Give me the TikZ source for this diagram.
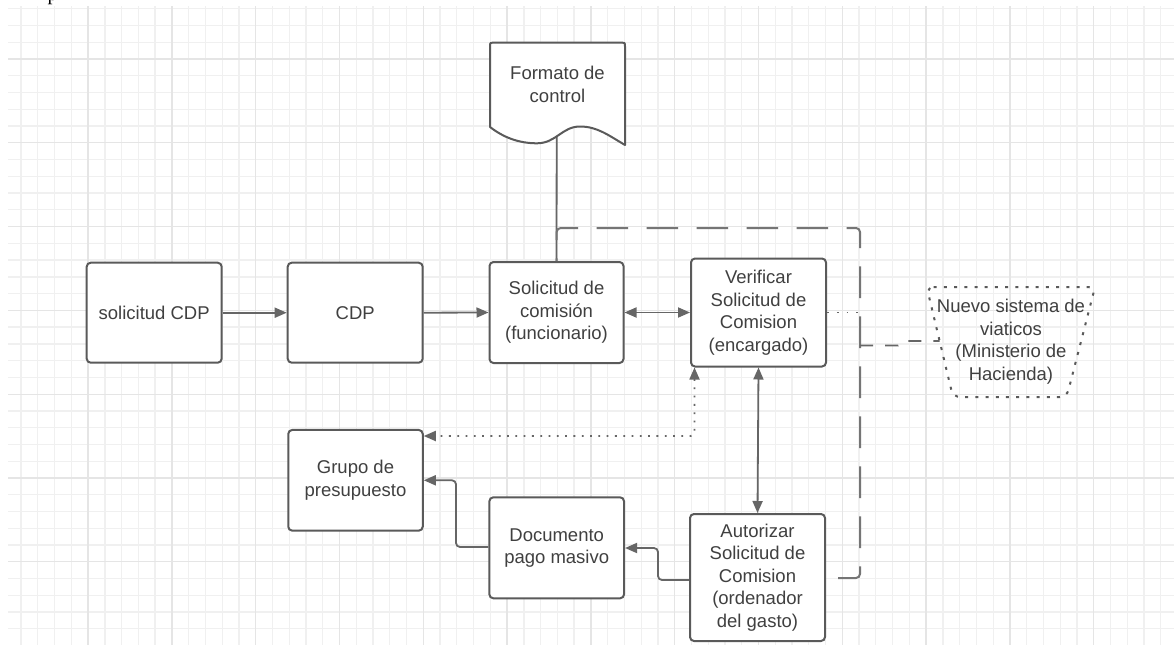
\documentclass[tikz,border=0pt]{standalone}
\usepackage{fontspec}
\setmainfont{Liberation Sans}
\newfontfamily\serifp{Liberation Serif}
\usetikzlibrary{arrows.meta}
\definecolor{gridminor}{HTML}{F0F0F0}
\definecolor{gridmajor}{HTML}{E5E5E5}
\definecolor{boxline}{HTML}{5A5A5A}
\definecolor{conn}{HTML}{666666}
\definecolor{txt}{HTML}{404040}
\begin{document}
\begin{tikzpicture}[x=1pt,y=-1pt,
  box/.style={draw=boxline, line width=2pt, rounded corners=4pt, fill=white,
    text=txt, align=center, inner sep=2pt,
    font=\fontsize{18.5}{22.5}\selectfont},
  arr/.style={draw=conn, line width=1.8pt, rounded corners=4pt, -{Triangle[length=12pt,width=10pt]}},
  darr/.style={draw=conn, line width=1.8pt, {Triangle[length=12pt,width=10pt]}-{Triangle[length=12pt,width=10pt]}},
  dotarr/.style={draw=conn, line width=1.8pt, rounded corners=4pt,
    dash pattern=on 1.8pt off 6.5pt,
    {Triangle[length=12pt,width=10pt]}-{Triangle[length=12pt,width=10pt]}},
  dotline/.style={draw=conn, line width=1.8pt, dash pattern=on 1.8pt off 8pt},
  longdash/.style={draw=conn!90!white, line width=2pt, rounded corners=4pt,
    dash pattern=on 31.6pt off 18.4pt, dash phase=29pt},
  shortdash/.style={draw=conn, line width=1.8pt, dash pattern=on 13pt off 12pt},
  plain/.style={draw=conn, line width=1.8pt}
]
\useasboundingbox (0,0) rectangle (1174,645);
\fill[white] (0,0) rectangle (1174,645);

% background grid: minor lines every 16.76, major every fifth
\foreach \k in {1,...,69} {
  \draw[gridminor, line width=1.3pt] ({4.3+16.76*\k},6) -- ({4.3+16.76*\k},645);
}
\foreach \k in {0,...,37} {
  \draw[gridminor, line width=1.3pt] (8,{8.7+16.76*\k}) -- (1174,{8.7+16.76*\k});
}
\foreach \m in {1,...,13} {
  \draw[gridmajor, line width=1.3pt] ({4.3+83.8*\m},6) -- ({4.3+83.8*\m},645);
}
\foreach \m in {0,...,6} {
  \draw[gridmajor, line width=1.3pt] (8,{59+83.8*\m}) -- (1174,{59+83.8*\m});
}

% stray glyph at the top edge
\node[anchor=base west, inner sep=0pt, text=black, font=\serifp\fontsize{20}{24}\selectfont] (ptxt) at (47.5,0.8) {p};

% process boxes
\node[box, minimum width=135pt, minimum height=100pt] (scdp) at (154.2,312.7) {solicitud CDP};
\node[box, minimum width=135pt, minimum height=100pt] (cdp) at (355.2,312.7) {CDP};
\node[box, minimum width=134pt, minimum height=101pt] (solc) at (556.5,312.5) {Solicitud de\\comisión\\(funcionario)};
\node[box, minimum width=135pt, minimum height=108pt] (verif) at (758.5,312.5) {Verificar\\Solicitud de\\Comision\\(encargado)};
\node[box, minimum width=134.5pt, minimum height=100.7pt] (grupo) at (355.5,480.3) {Grupo de\\presupuesto};
\node[box, minimum width=134.7pt, minimum height=101pt] (pago) at (556.7,547.8) {Documento\\pago masivo};
\node[box, minimum width=135pt, minimum height=127pt] (autor) at (757.5,577.5) {Autorizar\\Solicitud de\\Comision\\(ordenador\\del gasto)};

% document symbol
\coordinate (docb) at (556.7,137);
\draw[plain] (docb) -- (solc.north);
\draw[draw=boxline, line width=2pt, fill=white, line join=round]
  (490,127) -- (490,46.7) .. controls (490,42.7) .. (494,42.7)
  -- (621,42.7) .. controls (625,42.7) .. (625,46.7)
  -- (625,145)
  .. controls (608,135) and (597,126.5) .. (580,126.5)
  .. controls (562,126.5) and (556,143.3) .. (537,143.3)
  .. controls (518,143.3) and (503,137) .. (490,127) -- cycle;
\node[text=txt, align=center, font=\fontsize{18.5}{22.5}\selectfont] (fmt) at (557.5,84.5) {Formato de\\control};

% external system (dotted trapezoid)
\draw[draw=boxline, line width=2pt, rounded corners=7pt, dash pattern=on 3pt off 7.2pt]
  (926.7,287) -- (1095,287) -- (1066.7,397) -- (953,397) -- cycle;
\node[text=txt, align=center, font=\fontsize{18.5}{22.5}\selectfont] (nuevo) at (1011,341.5)
  {Nuevo sistema de\\viaticos\\(Ministerio de\\Hacienda)};
\coordinate (nuevoin) at (939.5,341);

% main flow
\draw[arr] (scdp.east) -- (cdp.west);
\draw[arr] (cdp.east) -- (solc.west);
\draw[darr] (solc.east) -- (verif.west);
\draw[darr] (verif.south) -- (autor.north);
\draw[dotarr] ([xshift=4.5pt]verif.south west) |- (grupo.east |- 0,436);
\draw[arr] (autor.west |- 0,580) -- (658,580) -- (658,548) -- (pago.east |- 0,548);
\draw[arr] (pago.west |- 0,547) -- (456,547) -- (456,480.3) -- (grupo.east);

% dashed loop from the request to the authorisation
\draw[longdash] (solc.north) -- (556.7,228) -- (860,228) -- (860,578) -- (autor.east |- 0,578);

% link to the external system
\coordinate (jn) at (860,312.5);
\draw[dotline] (verif.east) -- (jn);
\draw[shortdash] (860,345.5) -- (898,345.5) -- (903,341) -- (nuevoin);
\end{tikzpicture}
\end{document}
